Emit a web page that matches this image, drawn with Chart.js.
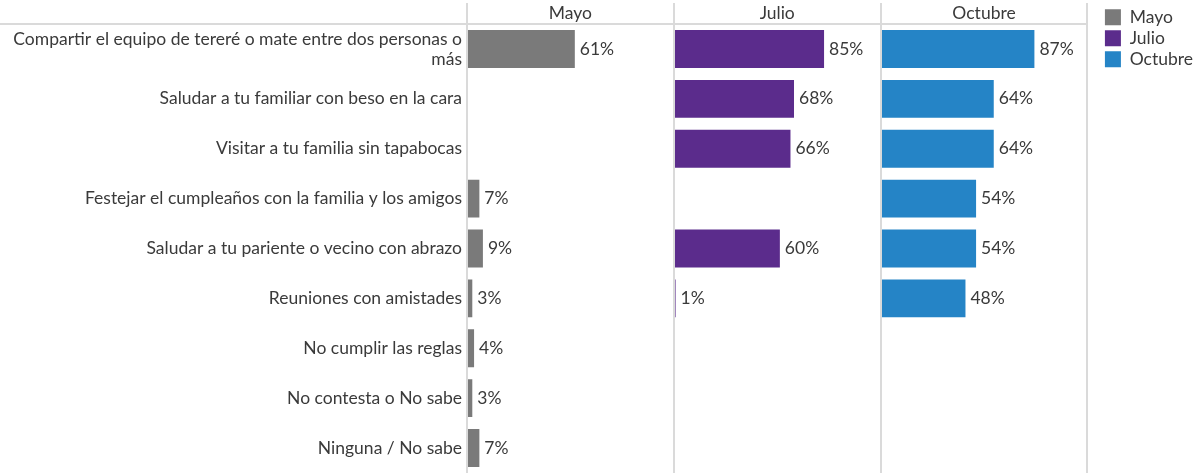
<!DOCTYPE html>
<html>
<head>
<meta charset="utf-8">
<script src="https://cdn.jsdelivr.net/npm/chart.js@4"></script>
<style>
  html, body { margin: 0; padding: 0; background: #ffffff; }
  #wrap { width: 1197px; height: 473px; position: relative; }
</style>
</head>
<body>
<div id="wrap"><canvas id="c" width="1197" height="473"></canvas></div>
<script>
const categories = [
  ['Compartir el equipo de tereré o mate entre dos personas o', 'más'],
  'Saludar a tu familiar con beso en la cara',
  'Visitar a tu familia sin tapabocas',
  'Festejar el cumpleaños con la familia y los amigos',
  'Saludar a tu pariente o vecino con abrazo',
  'Reuniones con amistades',
  'No cumplir las reglas',
  'No contesta o No sabe',
  'Ninguna / No sabe'
];
const seriesNames = ['Mayo', 'Julio', 'Octubre'];
const mayo    = [61, null, null, 7, 9, 3, 4, 3, 7];
const julio   = [85, 68, 66, null, 60, 1, null, null, null];
const octubre = [87, 64, 64, 54, 54, 48, null, null, null];
const colors = ['#7a7a7a', '#5b2c8c', '#2584c6'];
const axisMax = 117;

const TEXT = '#3a3a3a';
const FONT = 'Lato, "Open Sans", sans-serif';
const FS = 17.5;
const LINE = '#dadada';

const axisIds = ['xMayo', 'xJulio', 'xOctubre'];
const seriesData = [mayo, julio, octubre];

const datasets = seriesNames.map((n, i) => ({
  label: n,
  data: seriesData[i],
  xAxisID: axisIds[i],
  yAxisID: 'y',
  backgroundColor: colors[i],
  borderWidth: 0,
  grouped: false,
  categoryPercentage: 1,
  barPercentage: 0.76
}));

const scales = {
  y: {
    type: 'category',
    grid: { display: false, drawTicks: false },
    border: { display: false },
    ticks: { color: TEXT, font: { family: FONT, size: FS, lineHeight: 1.15 }, padding: 5 },
    afterFit(s) { s.width = 467; s.paddingTop = 0; s.paddingBottom = 0; }
  },
  xSpacer: {
    type: 'linear',
    position: 'top',
    stack: 'panels',
    stackWeight: 14 / 207,
    min: 0, max: 1,
    grid: { display: false },
    border: { display: false },
    ticks: { display: false },
    afterFit(s) { s.height = 19; }
  }
};
for (let i = axisIds.length - 1; i >= 0; i--) {
  scales[axisIds[i]] = {
    type: 'linear',
    position: 'top',
    stack: 'panels',
    stackWeight: 1,
    min: 0,
    max: axisMax,
    grid: { display: false },
    border: { display: false },
    ticks: { display: false },
    title: { display: true, text: seriesNames[i], color: TEXT, font: { family: FONT, size: FS, lineHeight: 1 }, padding: { top: 0, bottom: 0 } },
    afterFit(s) { s.height = 19; }
  };
}

const linesPlugin = {
  id: 'panelLines',
  afterDatasetsDraw(chart) {
    const ctx = chart.ctx, a = chart.chartArea;
    const xs = axisIds.map(id => chart.scales[id].left);
    xs.push(chart.scales[axisIds[axisIds.length - 1]].right);
    ctx.save();
    ctx.strokeStyle = LINE;
    ctx.lineWidth = 2;
    ctx.beginPath();
    ctx.moveTo(0, a.top);
    ctx.lineTo(xs[xs.length - 1], a.top);
    ctx.stroke();
    xs.forEach(x => {
      ctx.beginPath();
      ctx.moveTo(Math.round(x), 3);
      ctx.lineTo(Math.round(x), chart.height);
      ctx.stroke();
    });
    ctx.restore();
  }
};

const labelPlugin = {
  id: 'valueLabels',
  afterDatasetsDraw(chart) {
    const ctx = chart.ctx;
    ctx.save();
    ctx.fillStyle = TEXT;
    ctx.font = FS + 'px ' + FONT;
    ctx.textAlign = 'left';
    ctx.textBaseline = 'middle';
    chart.data.datasets.forEach((ds, di) => {
      const meta = chart.getDatasetMeta(di);
      meta.data.forEach((el, idx) => {
        const v = ds.data[idx];
        if (v === null || v === undefined) return;
        ctx.fillText(v + '%', el.x + 5, el.y);
      });
    });
    ctx.restore();
  }
};

new Chart(document.getElementById('c'), {
  type: 'bar',
  data: { labels: categories, datasets },
  options: {
    indexAxis: 'y',
    responsive: false,
    animation: false,
    layout: { padding: { left: 0, right: -6, top: 5, bottom: 0 } },
    scales,
    plugins: {
      legend: {
        position: 'right',
        align: 'start',
        labels: {
          color: TEXT,
          font: { family: FONT, size: FS, lineHeight: 1 },
          boxWidth: 16,
          boxHeight: 16,
          padding: 3.5
        }
      },
      tooltip: { enabled: false }
    }
  },
  plugins: [linesPlugin, labelPlugin]
});
</script>
</body>
</html>
